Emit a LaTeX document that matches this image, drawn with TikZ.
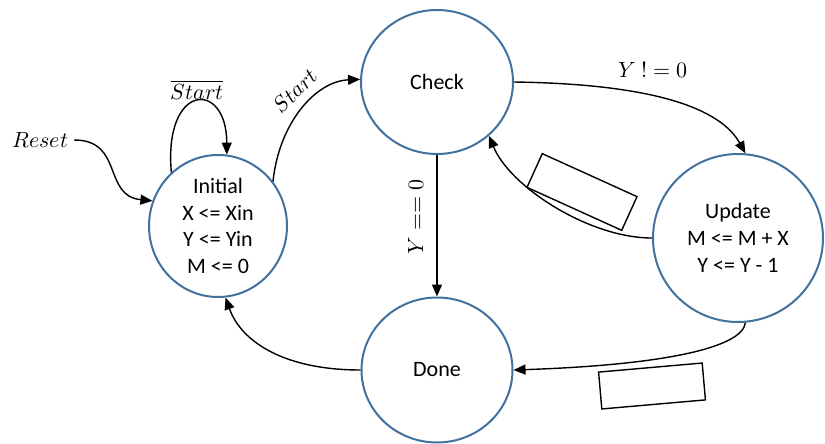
\documentclass[tikz,border=0pt]{standalone}
\usepackage{fontspec}
\setmainfont{Carlito}
\usepackage{unicode-math}
\usetikzlibrary{arrows.meta,shapes.geometric}
\definecolor{stateblue}{RGB}{65,113,156}

\begin{document}
\begin{tikzpicture}[x=1pt,y=-1pt,
  state/.style={draw=stateblue, line width=2pt, ellipse, inner sep=0pt,
    align=center, font=\fontsize{22}{26.7}\selectfont},
  tr/.style={draw=black, line width=1.4pt, -{Triangle[length=12pt,width=10pt]}},
  lab/.style={font=\fontsize{22}{26}\selectfont, inner sep=0pt},
  blank/.style={draw=black, line width=1.4pt, minimum width=104pt,
    minimum height=37pt, inner sep=0pt}]
\useasboundingbox (0,0) rectangle (825,444);

% states
\node[state, minimum width=138pt, minimum height=142pt] (init) at (218,226)
  {Initial\\X <= Xin\\Y <= Yin\\M <= 0};
\node[state, minimum width=152pt, minimum height=144pt] (check) at (437,82) {Check};
\node[state, minimum width=151pt, minimum height=145pt] (done) at (437,370) {Done};
\node[state, minimum width=170pt, minimum height=168pt] (update) at (738,238)
  {Update\\M <= M + X\\Y <= Y - 1};

% empty label boxes
\node[blank, rotate=-24.4] (boxa) at (582,192) {};
\node[blank, rotate=5] (boxb) at (652,386) {};

% transition labels
\node[lab] (lnstart) at (197,90) {$\overline{Start}$};
\node[lab] (lreset) at (40,140) {$Reset$};
\node[lab, rotate=45] (lstart) at (295,91) {$Start$};
\node[lab] (lne) at (653,70) {$Y\;!=0$};
\node[lab, rotate=90] (leq) at (416,217) {$Y==0$};

% transitions
\coordinate (rst) at (74,140);
\draw[tr] (rst) .. controls +(50,0) and +(-50,-5) .. (init.159);
\draw[tr] (init.131) .. controls +(-8,-90) and +(0,-75) .. (init.83);
\draw[tr] (init.39) .. controls +(6,-58) and +(-45,2) .. (check.178);
\draw[tr] (check.east) .. controls +(140,2) and +(-25,-45) .. (update.85);
\draw[tr] (update.west) .. controls +(-63,0) and +(21,51) .. (check.-46);
\draw[tr] (check.south) -- (done.north);
\draw[tr] (update.-85) .. controls +(-3,25) and +(150,-5) .. (done.east);
\draw[tr] (done.west) .. controls +(-75,0) and +(16,45) .. (init.-84);
\end{tikzpicture}
\end{document}
